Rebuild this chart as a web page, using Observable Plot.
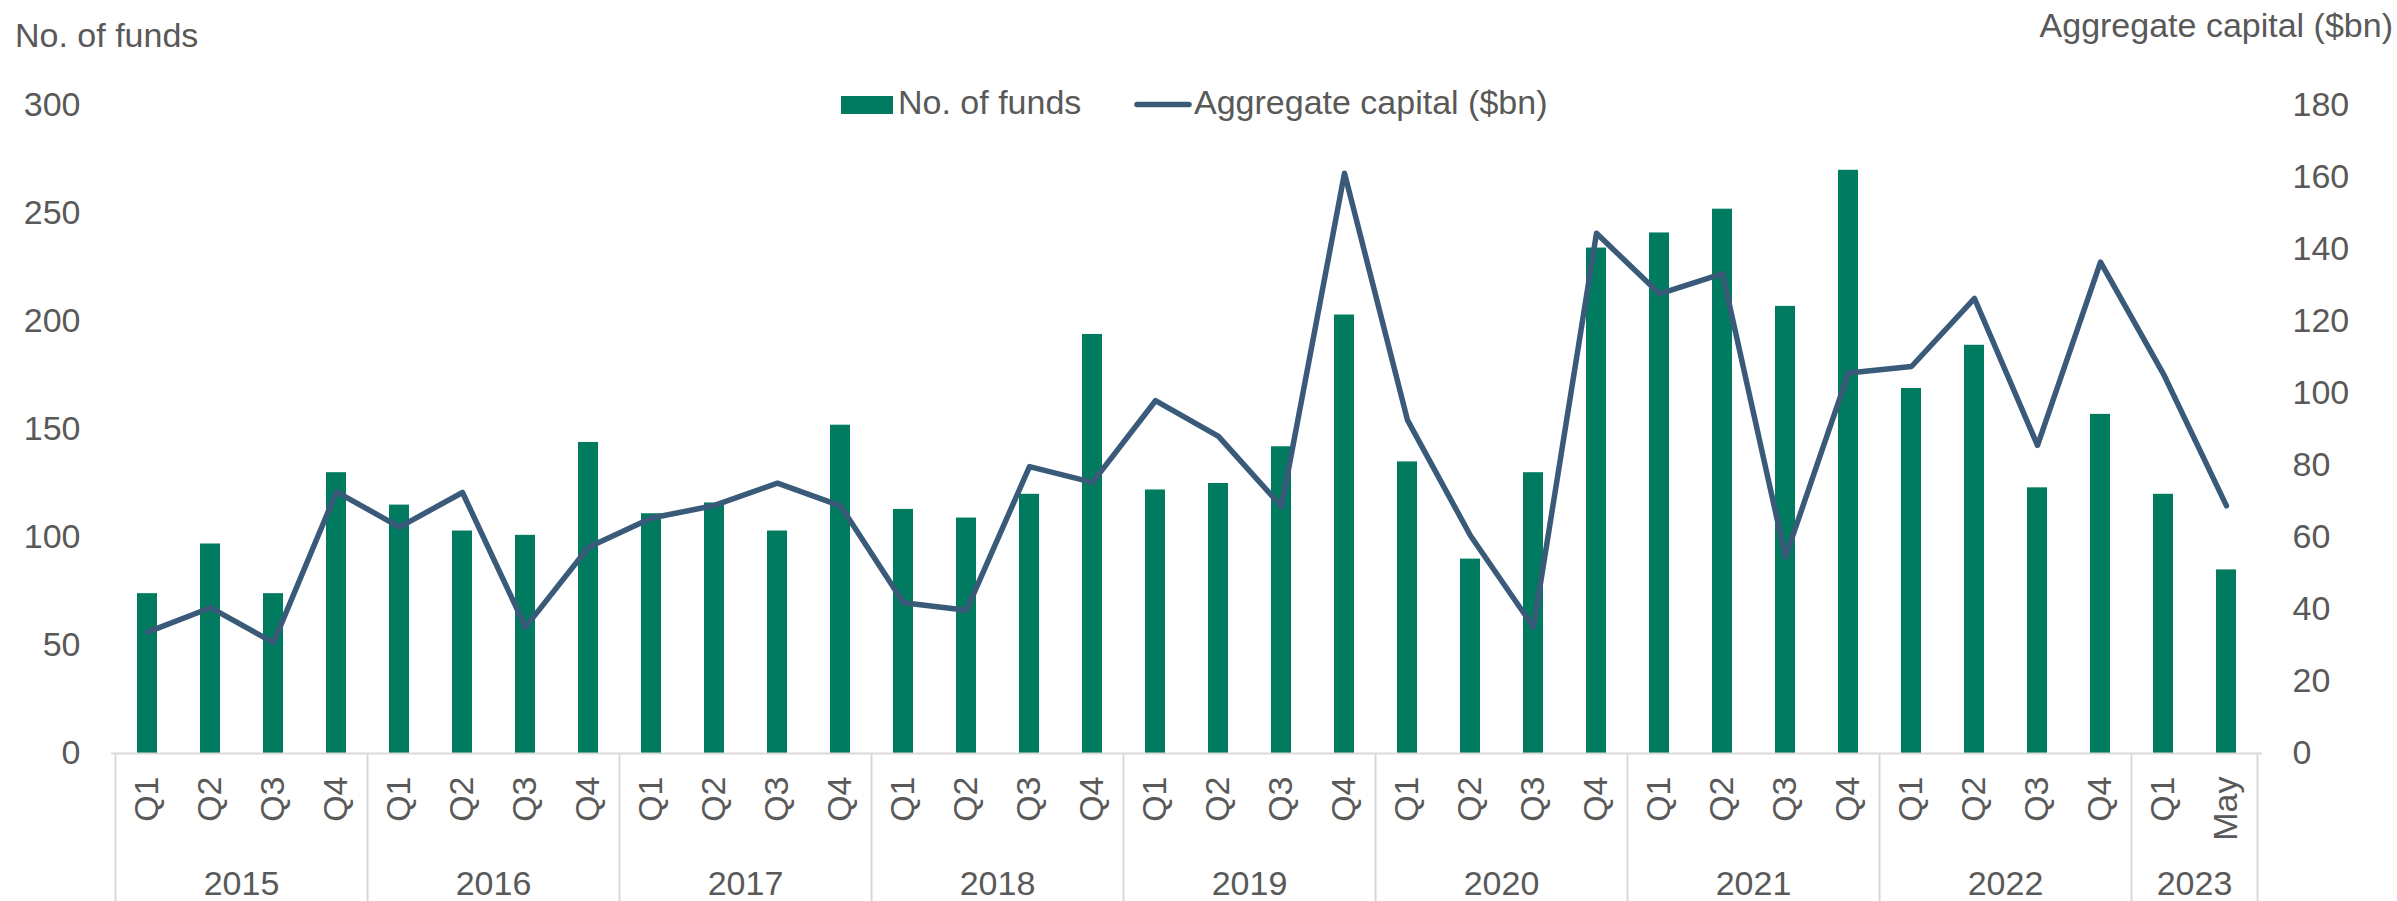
<!DOCTYPE html>
<html>
<head>
<meta charset="utf-8">
<script src="https://cdn.jsdelivr.net/npm/d3@7"></script>
<script src="https://cdn.jsdelivr.net/npm/@observablehq/plot@0.6"></script>
<style>
  html, body { margin: 0; padding: 0; background: #ffffff; }
  #chart { width: 2397px; height: 901px; }
</style>
</head>
<body>
<div id="chart"></div>
<script>
// ---- data ----
const periodYears = [
  "2015","2015","2015","2015",
  "2016","2016","2016","2016",
  "2017","2017","2017","2017",
  "2018","2018","2018","2018",
  "2019","2019","2019","2019",
  "2020","2020","2020","2020",
  "2021","2021","2021","2021",
  "2022","2022","2022","2022",
  "2023","2023"
];
const periodLabels = [
  "Q1","Q2","Q3","Q4",
  "Q1","Q2","Q3","Q4",
  "Q1","Q2","Q3","Q4",
  "Q1","Q2","Q3","Q4",
  "Q1","Q2","Q3","Q4",
  "Q1","Q2","Q3","Q4",
  "Q1","Q2","Q3","Q4",
  "Q1","Q2","Q3","Q4",
  "Q1","May"
];
const numFunds = [
  74, 97, 74, 130,
  115, 103, 101, 144,
  111, 116, 103, 152,
  113, 109, 120, 194,
  122, 125, 142, 203,
  135, 90, 130, 234,
  241, 252, 207, 270,
  169, 189, 123, 157,
  120, 85
];
const aggCapital = [
  33.7, 40.5, 30.8, 72.7,
  62.9, 72.5, 35.1, 57.3,
  65.4, 68.9, 75.1, 68.8,
  41.9, 39.8, 79.7, 75.3,
  98.0, 88.1, 68.6, 161.2,
  92.6, 60.5, 35.1, 144.5,
  127.7, 133.3, 54.6, 105.7,
  107.5, 126.4, 85.6, 136.5,
  105.4, 68.8
];
const yearLabels = ["2015","2016","2017","2018","2019","2020","2021","2022","2023"];
const leftTicks = [0, 50, 100, 150, 200, 250, 300];
const rightTicks = [0, 20, 40, 60, 80, 100, 120, 140, 160, 180];
const leftTitle = "No. of funds";
const rightTitle = "Aggregate capital ($bn)";
const seriesNames = ["No. of funds", "Aggregate capital ($bn)"];

// ---- styling ----
const GREEN = "#007B5F";
const BLUE = "#3A5A7A";
const TEXT = "#595959";
const GRID = "#D9D9D9";
const FONT = "'Liberation Sans', Arial, Helvetica, sans-serif";
const FS = 34;

const rows = periodLabels.map((p, i) => ({
  key: periodYears[i] + " " + p,
  year: periodYears[i],
  label: p,
  funds: numFunds[i],
  capital: aggCapital[i]
}));
const keys = rows.map(d => d.key);

const leftMax = 300, rightMax = 180;
const k = leftMax / rightMax; // map right axis into left-axis units

const W = 2397, H = 901;
const mL = 111, mR = 135, mT = 105, mB = 148;

const chart = Plot.plot({
  width: W,
  height: H,
  marginLeft: mL,
  marginRight: mR,
  marginTop: mT,
  marginBottom: mB,
  style: { fontFamily: FONT, fontSize: FS + "px", color: TEXT, background: "#ffffff", overflow: "visible" },
  x: { domain: keys, paddingInner: 0.69, paddingOuter: 0.345, axis: null },
  y: { domain: [0, leftMax], axis: null },
  marks: [
    Plot.barY(rows, { x: "key", y: "funds", fill: GREEN }),
    Plot.line(rows, {
      x: "key",
      y: d => d.capital * k,
      stroke: BLUE,
      strokeWidth: 5.5,
      strokeLinejoin: "round",
      strokeLinecap: "round"
    }),
    Plot.ruleY([0], { stroke: GRID, strokeWidth: 2 }),
    Plot.axisY(leftTicks, {
      anchor: "left", tickSize: 0, tickPadding: 31,
      fill: TEXT, fontSize: FS, label: null
    }),
    Plot.axisY(rightTicks.map(v => v * k), {
      anchor: "right", tickSize: 0, tickPadding: 30,
      tickFormat: d => String(Math.round(d / k)),
      fill: TEXT, fontSize: FS, label: null
    }),
    Plot.text(rows, {
      x: "key",
      text: "label",
      frameAnchor: "bottom",
      rotate: -90,
      textAnchor: "end",
      lineAnchor: "middle",
      dy: 23,
      fill: TEXT,
      fontSize: FS
    })
  ]
});

document.getElementById("chart").appendChild(chart);

// ---- year group labels and separators (positioned with Plot's x scale) ----
const xs = chart.scale("x");
const step = xs.step != null ? xs.step : (W - mL - mR) / keys.length;
const bw = xs.bandwidth != null ? xs.bandwidth : step * 0.31;
const center = key => xs.apply(key) + bw / 2;
const svg = d3.select(chart);
const yBase = H - mB;

const g = svg.append("g").attr("font-family", FONT);
const boundaries = [];
yearLabels.forEach(yr => {
  const ks = rows.filter(d => d.year === yr).map(d => d.key);
  const c0 = center(ks[0]), c1 = center(ks[ks.length - 1]);
  boundaries.push(c0 - step / 2);
  g.append("text")
    .attr("x", (c0 + c1) / 2)
    .attr("y", 895)
    .attr("text-anchor", "middle")
    .attr("fill", TEXT)
    .attr("font-size", FS)
    .text(yr);
});
boundaries.push(center(keys[keys.length - 1]) + step / 2);
boundaries.forEach(bx => {
  g.append("line")
    .attr("x1", bx).attr("x2", bx)
    .attr("y1", yBase).attr("y2", H)
    .attr("stroke", GRID).attr("stroke-width", 2);
});

// ---- axis titles ----
const tg = svg.append("g").attr("font-family", FONT).attr("font-size", FS).attr("fill", TEXT);
tg.append("text")
  .attr("x", 15).attr("y", 47)
  .attr("text-anchor", "start")
  .text(leftTitle);
tg.append("text")
  .attr("x", 2393).attr("y", 37)
  .attr("text-anchor", "end")
  .text(rightTitle);

// ---- legend ----
const lg = svg.append("g").attr("font-family", FONT).attr("font-size", FS).attr("fill", TEXT);
lg.append("rect")
  .attr("x", 841).attr("y", 96).attr("width", 52).attr("height", 18)
  .attr("fill", GREEN);
lg.append("text")
  .attr("x", 898).attr("y", 114)
  .attr("text-anchor", "start")
  .text(seriesNames[0]);
lg.append("line")
  .attr("x1", 1137).attr("x2", 1189).attr("y1", 104.5).attr("y2", 104.5)
  .attr("stroke", BLUE).attr("stroke-width", 5.5).attr("stroke-linecap", "round");
lg.append("text")
  .attr("x", 1194).attr("y", 114)
  .attr("text-anchor", "start")
  .text(seriesNames[1]);
</script>
</body>
</html>
